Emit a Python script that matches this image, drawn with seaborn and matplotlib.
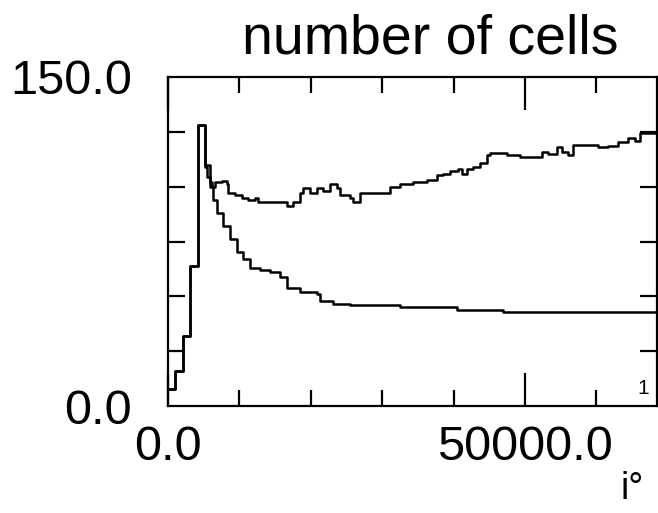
import matplotlib
matplotlib.use("Agg")
import matplotlib.pyplot as plt
from matplotlib.ticker import FixedLocator
import seaborn as sns
import pandas as pd

# ---- data ----
rise_t = [0, 1000, 2100, 3100, 4200]
rise_v = [7.7, 16, 32, 64, 128]

upper_t = [5180, 5460, 5880, 6160, 6580, 7560, 8260, 8400, 9380, 10360, 11200,
           12190, 12600, 16670, 17510, 18490, 18910, 19890, 20870, 21710, 22690,
           23670, 24090, 25490, 25910, 26890, 31090, 32490, 34310, 36270, 37680,
           38520, 39500, 40620, 41180, 41880, 42720, 43700, 44680, 45100, 47480,
           49300, 52380, 53220, 54480, 55180, 56020, 56720, 60230, 61630, 63030,
           64430, 65410, 66110, 68630]
upper_v = [109, 104.5, 102, 100, 102, 102.5, 101, 97, 96, 95, 94,
           95, 93, 91, 93, 97, 99.5, 97, 99.5, 98, 101,
           99.5, 96.4, 95, 93, 97, 100, 101, 102, 103, 105.5,
           106, 107, 108, 106, 108, 109, 111, 114.5, 115.5, 114.5,
           113.6, 116, 115, 118, 116, 114.5, 119, 118, 118.6, 120.5,
           122, 121, 124.5, 125]

lower_t = [5180, 5880, 6300, 6860, 7700, 8680, 9660, 10500, 11480, 12880,
           14290, 15690, 16670, 18490, 20870, 21290, 23110, 25490, 32490,
           40480, 46920, 68630]
lower_v = [110, 100, 94, 88, 82, 76, 70, 67, 63, 62,
           61, 58.6, 54, 52, 51, 48, 46.4, 46, 45,
           43.6, 42.7, 42]

x_tick_labels = ["0.0", "50000.0"]
y_tick_labels = ["0.0", "150.0"]
title_text = "number of cells"

# ---- build table ----
df = pd.concat([
    pd.DataFrame({"t": rise_t + upper_t, "v": rise_v + upper_v, "series": "upper"}),
    pd.DataFrame({"t": rise_t + lower_t, "v": rise_v + lower_v, "series": "lower"}),
], ignore_index=True)

sns.set_style("white")
plt.rcParams["font.family"] = ["Liberation Sans", "DejaVu Sans"]
plt.rcParams["text.color"] = "black"

W, H = 658, 513
fig = plt.figure(figsize=(W / 100, H / 100), dpi=100)
ax = fig.add_axes([168 / W, (H - 406) / H, (657 - 168) / W, (406 - 77) / H])

sns.lineplot(data=df, x="t", y="v", units="series", estimator=None,
             color="black", linewidth=1.8, drawstyle="steps-post", ax=ax,
             legend=False)

ax.set_xlim(0, 68490)
ax.set_ylim(0, 150)
ax.set_xlabel("")
ax.set_ylabel("")

for s in ax.spines.values():
    s.set_color("black")
    s.set_linewidth(1.6)

ax.set_xticks([0, 50000])
ax.set_xticklabels(x_tick_labels)
ax.xaxis.set_minor_locator(FixedLocator([10000, 20000, 30000, 40000, 60000]))
ax.set_yticks([0, 150])
ax.set_yticklabels(y_tick_labels)
ax.yaxis.set_minor_locator(FixedLocator([25, 50, 75, 100, 125]))

ax.tick_params(axis="x", which="major", direction="in", length=24, width=1.6,
               top=True, bottom=True, color="black", labelcolor="black",
               labelsize=35, pad=14)
ax.tick_params(axis="x", which="minor", direction="in", length=11.5, width=1.6,
               top=True, bottom=True, color="black")
ax.tick_params(axis="y", which="major", direction="in", length=0, width=1.6,
               left=True, right=True, labelcolor="black", labelsize=35, pad=26)
ax.tick_params(axis="y", which="minor", direction="in", length=12, width=1.6,
               left=True, right=True, color="black")

fig.text(430 / W, (H - 53) / H, title_text, ha="center", va="baseline",
         fontsize=40, color="black")
ax.text(0.971, 0.025, "1", transform=ax.transAxes, ha="center", va="bottom",
        fontsize=15, color="black")
fig.text(632 / W, (H - 507) / H, "i°", ha="center", va="bottom",
         fontsize=27, color="black")

fig.savefig("out.png", dpi=100)
